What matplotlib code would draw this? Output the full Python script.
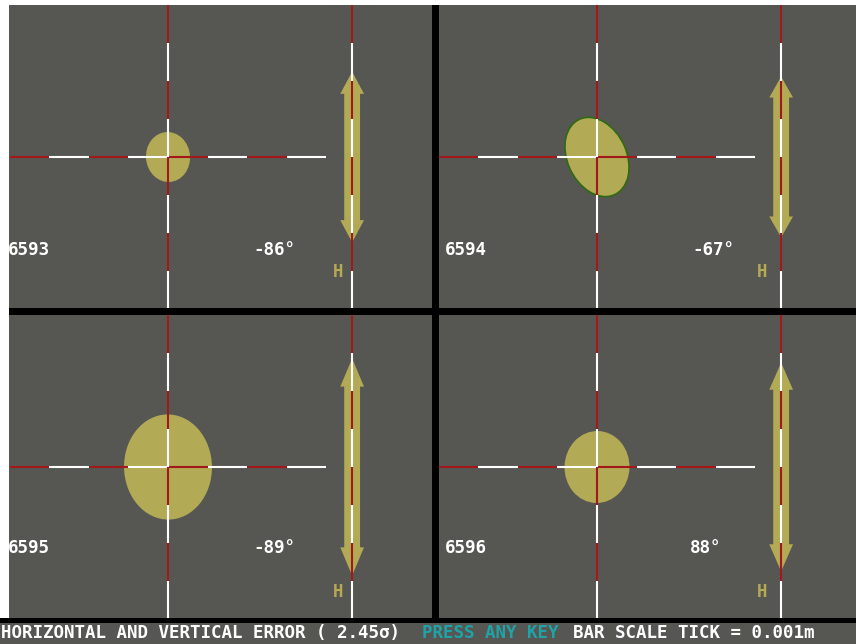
import numpy as np
import matplotlib
matplotlib.use("Agg")
import matplotlib.pyplot as plt
from matplotlib.patches import Ellipse, Polygon
from matplotlib.collections import LineCollection

# ---------------------------------------------------------------------------
# data (units: bar scale ticks, 1 tick = 0.001 m)
# ---------------------------------------------------------------------------
stations = ["6593", "6594", "6595", "6596"]
angles = [-86, -67, -89, 88]                  # orientation of the error ellipse
semi_minor = [0.556, 0.750, 1.110, 0.820]     # horizontal error ellipse
semi_major = [0.656, 1.084, 1.380, 0.945]
vert_err = [2.24, 2.11, 2.85, 2.74]           # half length of the vertical bar

footer = ["HORIZONTAL AND VERTICAL ERROR ( 2.45\u03c3) ", "PRESS ANY KEY ",
          "BAR SCALE TICK = 0.001m"]

# ---------------------------------------------------------------------------
# look
# ---------------------------------------------------------------------------
W, H = 856, 644
GREY = "#565752"
OLIVE = "#b2aa55"
RED = "#a31818"
CYAN = "#1ea3a8"
PX_X, PX_Y = 39.6, 38.1      # pixels per tick
FONT = dict(family="DejaVu Sans Mono", weight="bold", size=12.6)

# panel boxes in pixels: left, top, right, bottom
panels = [(9, 5, 432, 308), (439, 5, 856, 308),
          (9, 315, 432, 618), (439, 315, 856, 618)]
centre_dx = [159, 158, 159, 158]
centre_dy = 152
# label anchors in ticks: (number x, angle x, label y, H x, H y)
labels = [(-4.04, 2.15, -2.44, 4.17, -3.02), (-3.84, 2.40, -2.44, 4.04, -3.02),
          (-4.04, 2.15, -2.13, 4.17, -3.28), (-3.84, 2.35, -2.13, 4.04, -3.28)]
BAR_X = 4.65


def box(fig, l, t, r, b, color):
    ax = fig.add_axes([l / W, 1 - b / H, (r - l) / W, (b - t) / H])
    ax.set_facecolor(color)
    ax.set_xticks([])
    ax.set_yticks([])
    for s in ax.spines.values():
        s.set_visible(False)
    return ax


def tick_line(ax, x, y, vertical):
    # alternating red / white segments, one tick long each,
    # red first when going right or down from the centre
    k = np.arange(-4, 4)
    if vertical:
        segs = [[(x, a), (x, a + 1)] for a in k]
        cols = [RED if a % 2 else "white" for a in k]
    else:
        segs = [[(a, y), (a + 1, y)] for a in k]
        cols = [RED if a % 2 == 0 else "white" for a in k]
    ax.add_collection(LineCollection(segs, colors=cols, linewidths=1.5,
                                     zorder=4, capstyle="butt"))


def double_arrow(ax, x, half):
    hw, sw = 0.30, 0.20
    hl = 0.26 * half
    pts = [(x, half), (x + hw, half - hl), (x + sw, half - hl),
           (x + sw, -half + hl), (x + hw, -half + hl), (x, -half),
           (x - hw, -half + hl), (x - sw, -half + hl), (x - sw, half - hl),
           (x - hw, half - hl)]
    ax.add_patch(Polygon(pts, closed=True, facecolor=OLIVE, edgecolor="none",
                         zorder=3))


fig = plt.figure(figsize=(W / 100, H / 100), dpi=100, facecolor="white")
box(fig, 9, 5, W, 623, "black")
box(fig, 0, 618, 9, 623, "black")

for i, (l, t, r, b) in enumerate(panels):
    ax = box(fig, l, t, r, b, GREY)
    cx, cy = l + centre_dx[i], t + centre_dy
    ax.set_xlim((l - cx) / PX_X, (r - cx) / PX_X)
    ax.set_ylim((cy - b) / PX_Y, (cy - t) / PX_Y)

    ell = Ellipse((0, 0), 2 * semi_minor[i], 2 * semi_major[i],
                  angle=angles[i] + 90, facecolor=OLIVE,
                  edgecolor="#2f6a12" if i == 1 else "none", lw=1.2, zorder=2)
    ax.add_patch(ell)
    double_arrow(ax, BAR_X, vert_err[i])

    tick_line(ax, 0, 0, vertical=False)
    tick_line(ax, 0, 0, vertical=True)
    tick_line(ax, BAR_X, 0, vertical=True)

    nx, axx, ly, hx, hy = labels[i]
    ax.text(nx, ly, stations[i], color="white", ha="left", va="center",
            clip_on=True, **FONT)
    ax.text(axx, ly, "%d\u00b0" % angles[i], color="white", ha="left",
            va="center", **FONT)
    ax.text(hx, hy, "H", color=OLIVE, ha="left", va="center", **FONT)

# footer line
fax = box(fig, 0, 623, W, H, GREY)
fax.set_xlim(0, W)
fax.set_ylim(0, 1)
cw = 10.8
x0 = 1
for part, col in zip(footer, ["white", CYAN, "white"]):
    fax.text(x0, 0.5, part, color=col, ha="left", va="center", **FONT)
    x0 += len(part) * cw

fig.savefig("out.png", dpi=100, facecolor="white")
